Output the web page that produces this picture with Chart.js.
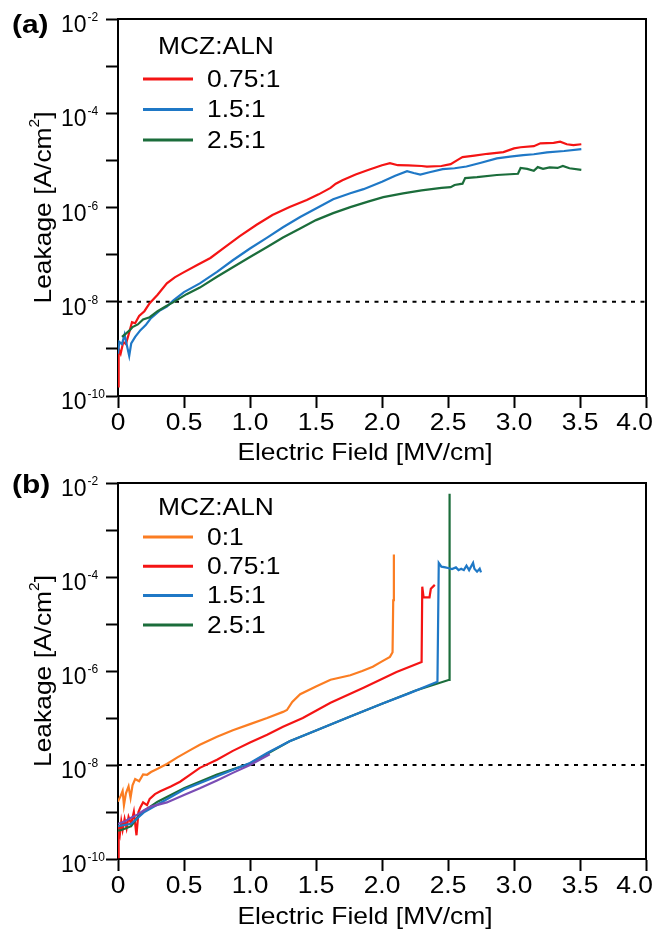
<!DOCTYPE html>
<html lang="en">
<head>
<meta charset="UTF-8">
<title>Leakage vs Electric Field</title>
<script src="https://cdn.jsdelivr.net/npm/chart.js"></script>
<style>
  body { margin: 0; background: #fff; }
  canvas { display: block; }
</style>
</head>
<body>
<canvas id="chartA" width="657" height="470"></canvas>
<canvas id="chartB" width="657" height="468"></canvas>

<script>
// ---- axes ----
const xTicks = [0, 0.5, 1, 1.5, 2, 2.5, 3, 3.5, 4];
const yTickExps = [-10, -9, -8, -7, -6, -5, -4, -3, -2];
const legendTitle = 'MCZ:ALN';
const refLeakage = 1e-8;   // dotted line

// ---- panel (a) ----
const aLabels = ['0.75:1', '1.5:1', '2.5:1'];

const aRedE = [0, 0.005, 0.02, 0.04, 0.06, 0.08, 0.106, 0.13, 0.16, 0.2, 0.24, 0.3, 0.37, 0.43, 0.49, 0.6, 0.7, 0.8, 0.92, 1.05, 1.17, 1.3, 1.43, 1.52, 1.61, 1.65, 1.7, 1.8, 1.9, 2.0, 2.06, 2.12, 2.2, 2.3, 2.34, 2.45, 2.52, 2.58, 2.61, 2.7, 2.8, 2.92, 3.0, 3.05, 3.15, 3.2, 3.3, 3.35, 3.4, 3.45, 3.51];
const aRedJ = [1.6e-10, 1.0e-9, 7.9e-10, 1.4e-9, 1.26e-9, 2.0e-9, 3.7e-9, 3.5e-9, 5.0e-9, 6.3e-9, 9.3e-9, 1.41e-8, 2.45e-8, 3.3e-8, 4.1e-8, 6.0e-8, 8.5e-8, 1.38e-7, 2.45e-7, 4.3e-7, 6.9e-7, 1.02e-6, 1.45e-6, 1.9e-6, 2.6e-6, 3.2e-6, 3.8e-6, 5.0e-6, 6.3e-6, 7.9e-6, 8.7e-6, 7.9e-6, 7.8e-6, 7.6e-6, 7.4e-6, 7.6e-6, 8.3e-6, 1.05e-5, 1.17e-5, 1.26e-5, 1.38e-5, 1.5e-5, 1.8e-5, 1.9e-5, 2.0e-5, 2.3e-5, 2.35e-5, 2.5e-5, 2.2e-5, 2.1e-5, 2.2e-5];

const aBlueE = [0, 0.01, 0.03, 0.05, 0.07, 0.085, 0.1, 0.13, 0.17, 0.21, 0.25, 0.32, 0.37, 0.42, 0.5, 0.62, 0.75, 0.87, 1.0, 1.13, 1.25, 1.38, 1.5, 1.63, 1.76, 1.86, 2.0, 2.1, 2.19, 2.24, 2.29, 2.36, 2.46, 2.55, 2.64, 2.75, 2.87, 2.97, 3.07, 3.15, 3.25, 3.38, 3.51];
const aBlueJ = [7.9e-10, 1.4e-9, 1.26e-9, 2.0e-9, 1.1e-9, 7.1e-10, 1.3e-9, 1.8e-9, 2.5e-9, 3.2e-9, 4.5e-9, 6.6e-9, 7.9e-9, 1.07e-8, 1.6e-8, 2.45e-8, 4.3e-8, 7.6e-8, 1.35e-7, 2.3e-7, 3.8e-7, 6.3e-7, 9.5e-7, 1.5e-6, 2.0e-6, 2.45e-6, 3.5e-6, 4.7e-6, 5.9e-6, 5.4e-6, 5.0e-6, 5.6e-6, 6.5e-6, 6.8e-6, 7.4e-6, 8.9e-6, 1.1e-5, 1.2e-5, 1.29e-5, 1.35e-5, 1.48e-5, 1.58e-5, 1.74e-5];

const aGreenE = [0.03, 0.06, 0.09, 0.11, 0.15, 0.19, 0.24, 0.3, 0.36, 0.42, 0.52, 0.62, 0.75, 0.87, 1.0, 1.13, 1.25, 1.38, 1.5, 1.63, 1.76, 1.9, 2.01, 2.16, 2.3, 2.45, 2.52, 2.55, 2.61, 2.63, 2.72, 2.87, 3.03, 3.05, 3.1, 3.15, 3.18, 3.22, 3.27, 3.33, 3.37, 3.42, 3.51];
const aGreenJ = [1.8e-9, 2.1e-9, 2.5e-9, 2.9e-9, 3.3e-9, 4.2e-9, 4.7e-9, 6.3e-9, 7.9e-9, 9.8e-9, 1.45e-8, 2.0e-8, 3.4e-8, 5.4e-8, 8.9e-8, 1.45e-7, 2.3e-7, 3.6e-7, 5.4e-7, 7.6e-7, 1.02e-6, 1.35e-6, 1.66e-6, 2.0e-6, 2.3e-6, 2.6e-6, 2.7e-6, 3.0e-6, 3.2e-6, 4.2e-6, 4.4e-6, 4.9e-6, 5.2e-6, 6.9e-6, 6.6e-6, 6.0e-6, 7.2e-6, 6.6e-6, 7.1e-6, 6.9e-6, 7.6e-6, 6.8e-6, 6.3e-6];

// ---- panel (b) ----
const bLabels = ['0:1', '0.75:1', '1.5:1', '2.5:1'];

const bOrangeE = [0, 0.02, 0.035, 0.045, 0.06, 0.08, 0.095, 0.11, 0.13, 0.16, 0.19, 0.22, 0.25, 0.3, 0.37, 0.45, 0.55, 0.62, 0.75, 0.87, 1.0, 1.13, 1.25, 1.28, 1.32, 1.38, 1.5, 1.61, 1.76, 1.85, 1.93, 2.0, 2.06, 2.08, 2.085, 2.09];
const bOrangeJ = [1.66e-9, 2.2e-9, 2.8e-9, 1.4e-9, 2.5e-9, 3.5e-9, 2.0e-9, 3.7e-9, 5.0e-9, 4.5e-9, 6.3e-9, 6.2e-9, 7.1e-9, 8.3e-9, 1.05e-8, 1.45e-8, 2.1e-8, 2.7e-8, 4.0e-8, 5.5e-8, 7.4e-8, 1.0e-7, 1.35e-7, 1.48e-7, 2.2e-7, 3.2e-7, 4.7e-7, 6.5e-7, 8.1e-7, 1.0e-6, 1.23e-6, 1.6e-6, 2.0e-6, 2.5e-6, 3.2e-5, 3.0e-4];

const bRedE = [0, 0.005, 0.015, 0.025, 0.035, 0.05, 0.065, 0.08, 0.1, 0.12, 0.14, 0.155, 0.17, 0.19, 0.22, 0.24, 0.28, 0.32, 0.4, 0.47, 0.55, 0.62, 0.75, 0.87, 1.0, 1.13, 1.25, 1.4, 1.61, 1.86, 2.11, 2.3, 2.305, 2.315, 2.36, 2.37, 2.4];
const bRedJ = [1.1e-10, 5.0e-10, 3.5e-10, 6.3e-10, 4.2e-10, 7.1e-10, 4.5e-10, 7.9e-10, 5.6e-10, 1.0e-9, 3.2e-10, 1.0e-9, 1.26e-9, 1.6e-9, 1.4e-9, 1.9e-9, 2.4e-9, 2.75e-9, 3.5e-9, 4.4e-9, 6.3e-9, 8.7e-9, 1.29e-8, 2.0e-8, 3.0e-8, 4.4e-8, 6.5e-8, 1.0e-7, 2.1e-7, 4.4e-7, 9.5e-7, 1.55e-6, 6.2e-5, 3.7e-5, 3.7e-5, 5.6e-5, 6.8e-5];

const bBlueE = [0, 0.1, 0.2, 0.5, 1.0, 1.13, 1.3, 1.5, 1.75, 2.0, 2.2, 2.42, 2.43, 2.45, 2.48, 2.5, 2.53, 2.56, 2.58, 2.6, 2.62, 2.64, 2.66, 2.69, 2.7, 2.72, 2.74, 2.75];
const bBlueJ = [5.0e-10, 5.6e-10, 1.0e-9, 3.0e-9, 1.1e-8, 1.8e-8, 3.2e-8, 5.4e-8, 1.05e-7, 2.0e-7, 3.3e-7, 5.9e-7, 2.0e-4, 1.66e-4, 1.6e-4, 1.55e-4, 1.48e-4, 1.6e-4, 1.4e-4, 1.5e-4, 1.4e-4, 1.75e-4, 1.4e-4, 2.0e-4, 1.5e-4, 1.3e-4, 1.5e-4, 1.25e-4];

const bGreenE = [0, 0.03, 0.06, 0.1, 0.15, 0.2, 0.3, 0.5, 0.75, 1.0, 1.13, 1.3, 1.5, 1.75, 2.0, 2.25, 2.51, 2.512];
const bGreenJ = [4.0e-10, 4.2e-10, 4.5e-10, 5.0e-10, 7.9e-10, 1.07e-9, 1.66e-9, 3.2e-9, 6.3e-9, 1.07e-8, 1.74e-8, 3.2e-8, 5.4e-8, 1.05e-7, 2.0e-7, 3.8e-7, 6.5e-7, 5.9e-3];

// unlabelled trace lying on top of 1.5:1 / 2.5:1 at low field
const bPurpleE = [0, 0.05, 0.1, 0.15, 0.2, 0.25, 0.37, 0.5, 0.62, 0.75, 0.87, 1.0, 1.15];
const bPurpleJ = [5.6e-10, 6.3e-10, 7.6e-10, 8.9e-10, 1.1e-9, 1.3e-9, 1.6e-9, 2.3e-9, 3.2e-9, 4.7e-9, 6.8e-9, 1.0e-8, 1.7e-8];

const FONT = '"Liberation Sans", Arial, sans-serif';
const COLORS = { orange: '#fb7d22', red: '#f41414', blue: '#1f78c6', green: '#1b6d3b', purple: '#7a4db5' };
const SX = 1.1;  // text in the source is slightly wide

function pts(E, J) { return E.map((e, i) => ({ x: e, y: J[i] })); }

function series(label, E, J, color, order) {
  return { label, data: pts(E, J), borderColor: color, backgroundColor: color,
           borderWidth: 2.2, pointRadius: 0, tension: 0, order };
}

function refLine() {
  return { label: '', data: [{ x: xTicks[0], y: refLeakage }, { x: xTicks[xTicks.length - 1], y: refLeakage }],
           borderColor: '#000', borderWidth: 2, borderDash: [4, 5.5], pointRadius: 0, order: 10 };
}

function wideText(ctx, text, x, y, align, sx) {
  ctx.save();
  ctx.translate(x, y);
  ctx.scale(sx, 1);
  ctx.textAlign = align;
  ctx.fillText(text, 0, 0);
  ctx.restore();
}

// frame, tick labels, titles, legend
const panelDeco = {
  id: 'panelDeco',
  afterDraw(chart, args, o) {
    const ctx = chart.ctx;
    const ca = chart.chartArea;
    ctx.save();
    ctx.strokeStyle = '#000';
    ctx.lineWidth = 2;
    ctx.beginPath();
    ctx.moveTo(ca.left, ca.top);
    ctx.lineTo(ca.right, ca.top);
    ctx.lineTo(ca.right, ca.bottom);
    ctx.stroke();

    ctx.fillStyle = '#000';
    // y tick labels 10^n
    const ys = chart.scales.y;
    ys.ticks.forEach(t => {
      const e = Math.round(Math.log10(t.value));
      if (e % 2 !== 0) return;
      const py = ys.getPixelForValue(t.value);
      ctx.font = '23px ' + FONT;
      ctx.textAlign = 'left';
      ctx.textBaseline = 'alphabetic';
      ctx.fillText('10', 61, py + 13);
      const w = ctx.measureText('10').width;
      ctx.font = '12px ' + FONT;
      ctx.fillText(String(e), 61 + w + 1, py + 2);
    });

    // x tick labels (last one kept inside the canvas)
    const xs = chart.scales.x;
    ctx.font = '24px ' + FONT;
    ctx.textBaseline = 'middle';
    xs.ticks.forEach(t => {
      const lbl = t.value === 0 ? '0' : Number(t.value).toFixed(1);
      const half = ctx.measureText(lbl).width * SX / 2;
      const px = Math.min(xs.getPixelForValue(t.value), chart.width - 4 - half);
      wideText(ctx, lbl, px, ca.bottom + 27, 'center', SX);
    });

    // x title
    wideText(ctx, 'Electric Field [MV/cm]', 365, ca.bottom + o.xTitleGap, 'center', SX);

    // y title with superscript
    ctx.save();
    ctx.translate(43, (ca.top + ca.bottom) / 2);
    ctx.rotate(-Math.PI / 2);
    ctx.scale(SX, 1);
    const main = 'Leakage [A/cm';
    ctx.font = '24px ' + FONT;
    const wMain = ctx.measureText(main).width;
    ctx.font = '14px ' + FONT;
    const wSup = ctx.measureText('2').width;
    ctx.font = '24px ' + FONT;
    const wEnd = ctx.measureText(']').width;
    const x0 = -(wMain + wSup + wEnd) / 2;
    ctx.textAlign = 'left';
    ctx.textBaseline = 'alphabetic';
    ctx.fillText(main, x0, 8);
    ctx.font = '14px ' + FONT;
    ctx.fillText('2', x0 + wMain, -4);
    ctx.font = '24px ' + FONT;
    ctx.fillText(']', x0 + wMain + wSup, 8);
    ctx.restore();

    // panel tag
    ctx.font = 'bold 26px ' + FONT;
    ctx.textBaseline = 'middle';
    wideText(ctx, o.tag, 12, o.tagY, 'left', 1.15);

    // legend
    ctx.font = '24px ' + FONT;
    wideText(ctx, legendTitle, 158, o.legendTitleY, 'left', SX);
    let ly = o.legendFirstY;
    chart.data.datasets.forEach(ds => {
      if (!ds.label) return;
      ctx.strokeStyle = ds.borderColor;
      ctx.lineWidth = 3;
      ctx.beginPath();
      ctx.moveTo(143, ly);
      ctx.lineTo(193, ly);
      ctx.stroke();
      ctx.fillStyle = '#000';
      wideText(ctx, ds.label, 207, ly + 1, 'left', SX);
      ly += o.legendStep;
    });
    ctx.restore();
  }
};

function makeOptions(padTop, xAxisH, deco) {
  const grid = { drawOnChartArea: false, drawTicks: true, tickLength: 12, tickWidth: 2, tickColor: '#000' };
  const border = { display: true, color: '#000', width: 2 };
  return {
    responsive: false,
    animation: false,
    layout: { padding: { top: padTop, right: 11, left: 0, bottom: 0 } },
    plugins: { legend: { display: false }, tooltip: { enabled: false }, panelDeco: deco },
    scales: {
      x: {
        type: 'linear', min: 0, max: 4,
        afterBuildTicks: s => { s.ticks = xTicks.map(v => ({ value: v })); },
        afterFit: s => { s.height = xAxisH; },
        ticks: { padding: 0, maxRotation: 0, callback: () => '' },
        grid, border
      },
      y: {
        type: 'logarithmic', min: 1e-10, max: 1e-2,
        afterBuildTicks: s => { s.ticks = yTickExps.map(e => ({ value: Math.pow(10, e) })); },
        afterFit: s => { s.width = 118; },
        ticks: { callback: () => '' },
        grid, border
      }
    }
  };
}

Chart.register(panelDeco);

new Chart(document.getElementById('chartA'), {
  type: 'line',
  data: {
    datasets: [
      series(aLabels[0], aRedE, aRedJ, COLORS.red, 3),
      series(aLabels[1], aBlueE, aBlueJ, COLORS.blue, 2),
      series(aLabels[2], aGreenE, aGreenJ, COLORS.green, 1),
      refLine()
    ]
  },
  options: makeOptions(19, 74, { tag: '(a)', tagY: 26, xTitleGap: 57, legendTitleY: 47, legendFirstY: 79, legendStep: 30.5 })
});

new Chart(document.getElementById('chartB'), {
  type: 'line',
  data: {
    datasets: [
      series(bLabels[0], bOrangeE, bOrangeJ, COLORS.orange, 4),
      series(bLabels[1], bRedE, bRedJ, COLORS.red, 3),
      series(bLabels[2], bBlueE, bBlueJ, COLORS.blue, 1),
      series(bLabels[3], bGreenE, bGreenJ, COLORS.green, 2),
      series('', bPurpleE, bPurpleJ, COLORS.purple, 0),
      refLine()
    ]
  },
  options: makeOptions(13, 79, { tag: '(b)', tagY: 16, xTitleGap: 58, legendTitleY: 38, legendFirstY: 67, legendStep: 29.3 })
});
</script>
</body>
</html>
